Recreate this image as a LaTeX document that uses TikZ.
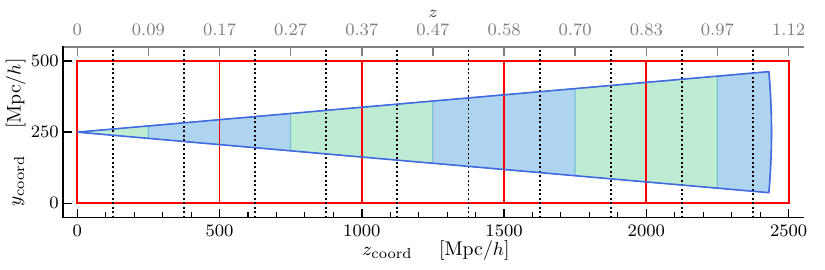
\documentclass[tikz,border=0pt]{standalone}
\definecolor{slgreen}{RGB}{190,236,210}
\definecolor{slblue}{RGB}{174,212,240}
\definecolor{sledge}{RGB}{120,190,215}
\definecolor{conecol}{RGB}{65,105,225}
\definecolor{axgray}{RGB}{128,128,128}
\definecolor{boxred}{RGB}{255,0,0}
\begin{document}
\begin{tikzpicture}[x=0.48pt,y=0.48pt,
  ticklab/.style={font=\fontsize{8.4}{10}\selectfont, inner sep=0pt},
  axlab/.style={font=\fontsize{9.5}{11}\selectfont, inner sep=0pt},
  spine/.style={line width=0.95pt, line cap=rect},
  majtick/.style={line width=0.7pt},
  mintick/.style={line width=0.5pt},
  redline/.style={draw=boxred, line width=0.9pt},
  dotline/.style={line width=0.95pt, dash pattern=on 0.95pt off 1.2pt},
  slicegreen/.style={fill=slgreen, draw=sledge, line width=0.5pt},
  sliceblue/.style={fill=slblue, draw=sledge, line width=0.5pt},
  coneline/.style={draw=conecol, line width=0.75pt, line join=round}]
\useasboundingbox (0,0) rectangle (825,270);
\begin{scope}[shift={(37.1pt,32.02pt)}, x=0.13656pt, y=0.13656pt]
  % slices
  \path[slicegreen] (0,250) -- (250,271.87) -- (250,228.13) -- cycle;
  \path[sliceblue] (250,271.87) -- (750,315.62) -- (750,184.38) -- (250,228.13) -- cycle;
  \path[slicegreen] (750,315.62) -- (1250,359.36) -- (1250,140.64) -- (750,184.38) -- cycle;
  \path[sliceblue] (1250,359.36) -- (1750,403.11) -- (1750,96.89) -- (1250,140.64) -- cycle;
  \path[slicegreen] (1750,403.11) -- (2250,446.85) -- (2250,53.15) -- (1750,96.89) -- cycle;
  \path[sliceblue] (2250,446.85) -- (2430.71,462.66) arc[start angle=5, end angle=-5, radius=2440] -- (2250,53.15) -- cycle;
  % red boxes
  \draw[redline] (0,0) rectangle (2500,500);
  \draw[redline] (500,0) -- (500,500);
  \draw[redline] (1000,0) -- (1000,500);
  \draw[redline] (1500,0) -- (1500,500);
  \draw[redline] (2000,0) -- (2000,500);
  % dotted lines
  \foreach \x in {125,375,...,2375} \draw[dotline] (\x,-50) -- (\x,550);
  % cone outline
  \draw[coneline] (0,250) -- (2430.71,462.66) arc[start angle=5, end angle=-5, radius=2440] -- cycle;
  % spines
  \draw[spine, axgray] (-50,550) -- (2550,550);
  \draw[spine] (2550,-50) -- (-50,-50) -- (-50,550);
  % ticks
  \foreach \x in {0,500,...,2500} \draw[majtick] (\x,-50) -- ++(0,4.3pt);
  \foreach \m in {0,500,...,2000} \foreach \k in {100,200,300,400} \draw[mintick] ({\m+\k},-50) -- ++(0,2.6pt);
  \foreach \y in {0,250,500} \draw[majtick] (-50,\y) -- ++(4.3pt,0);
  \foreach \x in {0,250,...,2500} \draw[majtick, axgray] (\x,550) -- ++(0,-4.3pt);
  % tick labels
  \foreach \x/\l [count=\i] in {0/0,250/0.09,500/0.17,750/0.27,1000/0.37,1250/0.47,1500/0.58,1750/0.70,2000/0.83,2250/0.97,2500/1.12}
    \node[ticklab, text=axgray, anchor=base] (tl\i) at ([yshift=5.6pt]\x,550) {\l};
  \foreach \x [count=\i] in {0,500,...,2500}
    \node[ticklab, anchor=base] (bl\i) at ([yshift=-9.2pt]\x,-50) {\x};
  \foreach \y [count=\i] in {0,250,500}
    \node[ticklab, anchor=east] (ll\i) at ([xshift=-1.9pt]-50,\y) {\y};
\end{scope}
\node[axlab, anchor=base] (xlab) at (436,14.7) {$z_{\mathrm{coord}}$ \quad [Mpc/$h$]};
\node[axlab, anchor=base, rotate=90] (ylab) at (20.5,137.7) {$y_{\mathrm{coord}}$ \quad [Mpc/$h$]};
\node[ticklab, text=black!80, anchor=base] (zlab) at (433,252.7) {$z$};
\end{tikzpicture}
\end{document}
